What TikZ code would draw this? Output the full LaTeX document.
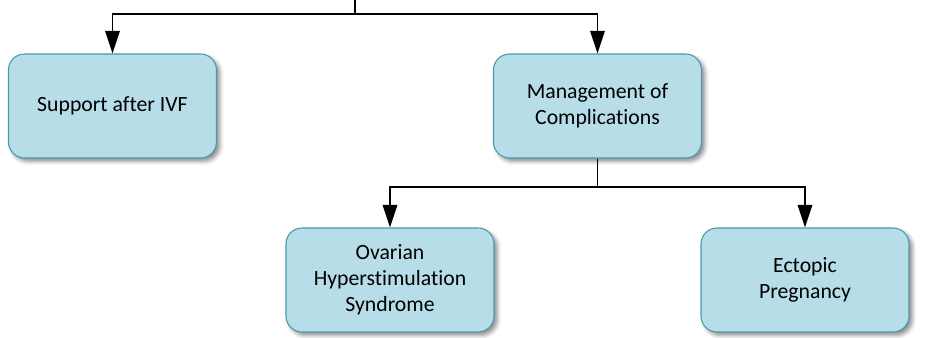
\documentclass[tikz,border=0pt]{standalone}
\usepackage{fontspec}
\setmainfont[Ligatures=NoCommon]{Carlito}
\usetikzlibrary{arrows.meta,shadows.blur}
\definecolor{boxfill}{HTML}{B7DDE8}
\definecolor{boxline}{HTML}{4A98AE}
\tikzset{
  box/.style={draw=boxline, line width=0.8pt, fill=boxfill, rounded corners=12pt,
    minimum width=156pt, minimum height=78pt, align=center, inner sep=2pt,
    font=\fontsize{16.3pt}{19.5pt}\selectfont,
    blur shadow={shadow xshift=2.5pt, shadow yshift=-2.5pt, shadow blur radius=3pt, shadow opacity=45}},
  link/.style={line width=1.2pt, black},
  arr/.style={link, -{Triangle[width=11pt, length=17pt]}}
}
\begin{document}
\begin{tikzpicture}[x=0.75pt, y=-0.75pt]
  \useasboundingbox (0,0) rectangle (947,338);
  % boxes
  \node[box] (b1) at (112.5,106) {Support after IVF};
  \node[box] (b2) at (597.5,106) {Management of\\Complications};
  \node[box] (b3) at (390,280) {Ovarian\\Hyperstimulation\\Syndrome};
  \node[box] (b4) at (805,280) {Ectopic\\Pregnancy};
  % junction points
  \coordinate (top) at (355,0);
  \coordinate (j1) at (355,14);
  \coordinate (j2) at (597.5,187);
  % connectors
  \draw[link] (top) -- (j1);
  \draw[arr] (j1) -| (b1);
  \draw[arr] (j1) -| (b2);
  \draw[link] (b2) -- (j2);
  \draw[arr] (j2) -| (b3);
  \draw[arr] (j2) -| (b4);
\end{tikzpicture}
\end{document}
